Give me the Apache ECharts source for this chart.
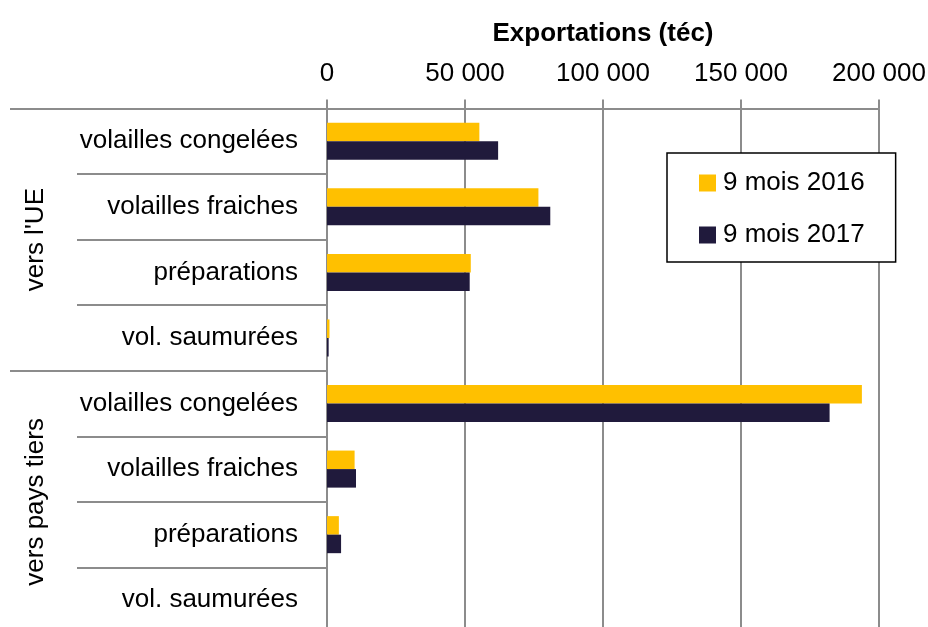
<!DOCTYPE html>
<html>
<head>
<meta charset="utf-8">
<script src="https://cdn.jsdelivr.net/npm/echarts@6/dist/echarts.min.js"></script>
<style>
  html, body { margin: 0; padding: 0; background: #fff; }
  #chart { width: 928px; height: 627px; }
</style>
</head>
<body>
<div id="chart"></div>
<script>
// categories, top to bottom
const categories = [
  'volailles congelées', 'volailles fraiches', 'préparations', 'vol. saumurées',
  'volailles congelées', 'volailles fraiches', 'préparations', 'vol. saumurées'
]
const groups = ["vers l'UE", 'vers pays tiers']
const seriesNames = ['9 mois 2016', '9 mois 2017']
// exportations (téc)
const values2016 = [55200, 76600, 52100, 900, 193800, 10000, 4300, 0]
const values2017 = [62000, 80900, 51700, 600, 182100, 10500, 5100, 0]

const axisMax = 200000
const axisStep = 50000

const gray = '#8c8c8c'
const font = "'Liberation Sans', Arial, sans-serif"

function formatThousands(v) {
  return String(v).replace(/\B(?=(\d{3})+(?!\d))/g, ' ')
}

let myChart = echarts.init(document.getElementById('chart'), null, { renderer: 'canvas' })
let option = {
  animation: false,
  backgroundColor: '#fff',
  textStyle: { fontFamily: font, color: '#000' },
  grid: {
    left: 327,
    right: 49,
    top: 108.5,
    bottom: -6,
    containLabel: false,
    outerBoundsMode: 'none'
  },
  legend: {
    data: seriesNames,
    orient: 'vertical',
    left: 667,
    top: 153,
    padding: [17, 31, 14, 32],
    itemGap: 26,
    itemWidth: 17,
    itemHeight: 17,
    icon: 'rect',
    borderColor: '#000',
    borderWidth: 1.5,
    backgroundColor: '#fff',
    textStyle: { fontSize: 26, color: '#000', fontFamily: font, padding: [0, 0, 0, 2] }
  },
  xAxis: {
    type: 'value',
    position: 'top',
    min: 0,
    max: axisMax,
    interval: axisStep,
    name: 'Exportations (téc)',
    nameLocation: 'middle',
    nameGap: 62,
    nameTextStyle: { fontSize: 26, fontWeight: 'bold', fontFamily: font, color: '#000' },
    axisLine: { show: true, lineStyle: { color: gray, width: 2 } },
    axisTick: { show: true, length: 9, lineStyle: { color: gray, width: 2 } },
    splitLine: { show: true, lineStyle: { color: gray, width: 2 } },
    axisLabel: {
      fontSize: 26,
      fontFamily: font,
      color: '#000',
      margin: 22,
      formatter: formatThousands
    }
  },
  yAxis: [
    {
      type: 'category',
      data: categories,
      inverse: true,
      position: 'left',
      axisLine: { show: true, lineStyle: { color: gray, width: 2 } },
      axisTick: { show: true, length: 250, lineStyle: { color: gray, width: 2 } },
      axisLabel: { fontSize: 26, color: '#000', margin: 29, fontFamily: font },
      splitLine: { show: false }
    },
    {
      type: 'category',
      data: groups,
      inverse: true,
      position: 'left',
      offset: 0,
      axisLine: { show: false },
      axisTick: { show: true, length: 317, lineStyle: { color: gray, width: 2 } },
      axisLabel: { fontSize: 26, color: '#000', rotate: 90, margin: 278, fontFamily: font },
      splitLine: { show: false }
    }
  ],
  series: [
    {
      name: seriesNames[0],
      type: 'bar',
      yAxisIndex: 0,
      data: values2016,
      barGap: '0%',
      barCategoryGap: '43.5%',
      itemStyle: { color: '#FFC000' }
    },
    {
      name: seriesNames[1],
      type: 'bar',
      yAxisIndex: 0,
      data: values2017,
      barGap: '0%',
      barCategoryGap: '43.5%',
      itemStyle: { color: '#201A3C' }
    }
  ]
}
myChart.setOption(option)
</script>
</body>
</html>
